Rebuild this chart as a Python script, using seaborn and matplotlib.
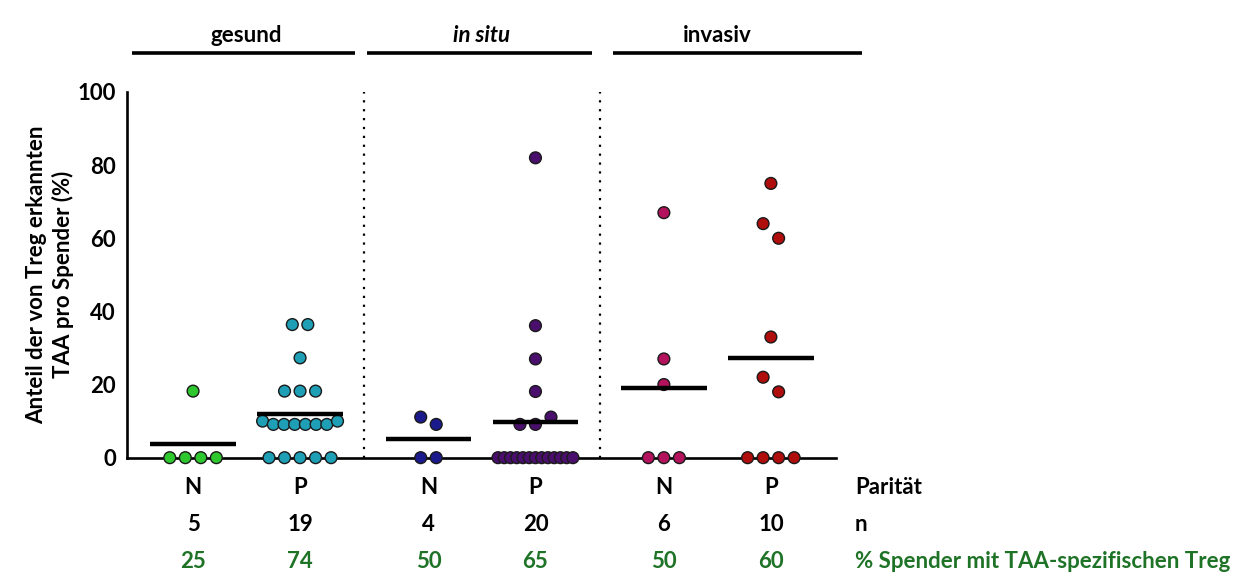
import numpy as np
import pandas as pd
import matplotlib
matplotlib.use("Agg")
import matplotlib.pyplot as plt
import matplotlib.transforms as mtransforms
import seaborn as sns

# ---- data -------------------------------------------------------------
groups = ["gesund", "in situ", "invasiv"]
parity = ["N", "P"]

gesund_N = [0, 0, 0, 0, 18.2]
gesund_P = [0, 0, 0, 0, 0, 10.0, 9.1, 9.1, 9.1, 9.1, 9.1, 9.1, 10.0,
            18.2, 18.2, 18.2, 27.3, 36.4, 36.4]
insitu_N = [0, 0, 11.1, 9.1]
insitu_P = [0, 0, 0, 0, 0, 0, 0, 0, 0, 0, 0, 0, 0,
            9.1, 9.1, 11.1, 18.1, 27.0, 36.1, 82.0]
invasiv_N = [0, 0, 0, 20.0, 27.0, 67.0]
invasiv_P = [0, 0, 0, 0, 22.0, 18.0, 33.0, 64.0, 60.0, 75.0]

n_donors = [5, 19, 4, 20, 6, 10]
pct_treg = [25, 74, 50, 65, 50, 60]

series = [gesund_N, gesund_P, insitu_N, insitu_P, invasiv_N, invasiv_P]
colors = ["#2ec82e", "#1e9fb6", "#1a1a8c", "#4a0f6c", "#b3135d", "#b00d0d"]

# ---- layout helpers ----------------------------------------------------
GROUP_STEP = 2.2          # distance between N columns of neighbouring groups
cat_x = [g * GROUP_STEP + p for g in range(len(groups)) for p in range(len(parity))]


def row_offsets(values, step=0.145, max_span=0.70, tol=4.5):
    """Spread points of (nearly) equal value side by side, like a dot plot."""
    v = np.asarray(values, float)
    order = np.argsort(v, kind="stable")
    bins, cur = [], [order[0]]
    for i in order[1:]:
        if v[i] - v[cur[-1]] < tol:
            cur.append(i)
        else:
            bins.append(cur)
            cur = [i]
    bins.append(cur)
    off = np.zeros(len(v))
    for b in bins:
        b = sorted(b)
        k = len(b)
        s = min(step, max_span / (k - 1)) if k > 1 else 0.0
        for j, idx in enumerate(b):
            off[idx] = (j - (k - 1) / 2) * s
    return off


rows = []
for ci, vals in enumerate(series):
    off = row_offsets(vals)
    for v, o in zip(vals, off):
        rows.append({"cat": ci, "x": cat_x[ci] + o, "value": v})
df = pd.DataFrame(rows)

# ---- style -------------------------------------------------------------
sns.set_theme(style="white")
plt.rcParams["font.family"] = ["Lato", "DejaVu Sans"]
plt.rcParams["font.weight"] = "bold"
for key in ("text.color", "axes.labelcolor", "xtick.color", "ytick.color"):
    plt.rcParams[key] = "black"

FS = 16

fig = plt.figure(figsize=(12.43, 5.8), dpi=100)
ax = fig.add_axes([0.1022, 0.2109, 0.5704, 0.6305])

sns.scatterplot(data=df, x="x", y="value", hue="cat",
                palette=dict(enumerate(colors)), s=72,
                edgecolor="#1a1a1a", linewidth=1.0, legend=False,
                ax=ax, zorder=3, clip_on=False)

# group means
for ci, vals in enumerate(series):
    m = np.mean(vals)
    ax.hlines(m, cat_x[ci] - 0.40, cat_x[ci] + 0.40, color="black",
              linewidth=3.2, zorder=4)

# dotted separators between groups
for g in range(1, len(groups)):
    xs = (cat_x[2 * g - 1] + cat_x[2 * g]) / 2
    ax.vlines(xs, 0, 100, color="black", linestyle=(0, (1, 3)),
              linewidth=1.6, zorder=1)

ax.set_xlim(-0.617, 6.009)
ax.set_ylim(0, 100)
ax.set_yticks([0, 20, 40, 60, 80, 100])
ax.set_xticks(cat_x)
ax.set_xticklabels([])
ax.tick_params(axis="y", length=6, width=1.8, labelsize=FS, pad=2, color="black")
ax.tick_params(axis="x", length=5, width=1.6, color="black", direction="out")
for lab in ax.get_yticklabels():
    lab.set_fontweight("bold")
ax.set_xlabel("")
ax.set_ylabel("Anteil der von Treg erkannten\nTAA pro Spender (%)",
              fontsize=FS, fontweight="bold", linespacing=1.25)
ax.yaxis.set_label_coords(-0.075, 0.5)

sns.despine(ax=ax)
for side in ("left", "bottom"):
    ax.spines[side].set_linewidth(1.9)
    ax.spines[side].set_color("black")

trans = mtransforms.blended_transform_factory(ax.transData, ax.transAxes)

# group headers with bars
header_spans = [(-0.574, 1.514), (1.623, 3.726), (3.925, 6.252)]
for g, (x0, x1) in enumerate(header_spans):
    ax.plot([x0, x1], [1.107, 1.107], transform=trans, color="black",
            linewidth=2.6, clip_on=False, solid_capstyle="butt")
    cx = (cat_x[2 * g] + cat_x[2 * g + 1]) / 2
    style = "italic" if groups[g] == "in situ" else "normal"
    ax.text(cx, 1.155, groups[g], transform=trans, ha="center", va="center",
            fontsize=FS, fontweight="bold", fontstyle=style)

# table below the axis
green = "#1f7326"
row_y = [-0.082, -0.183, -0.284]
for ci in range(len(cat_x)):
    ax.text(cat_x[ci], row_y[0], parity[ci % 2], transform=trans,
            ha="center", va="center", fontsize=FS, fontweight="bold")
    ax.text(cat_x[ci], row_y[1], str(n_donors[ci]), transform=trans,
            ha="center", va="center", fontsize=FS, fontweight="bold")
    ax.text(cat_x[ci], row_y[2], str(pct_treg[ci]), transform=trans,
            ha="center", va="center", fontsize=FS, fontweight="bold",
            color=green)

right_x = 6.187
ax.text(right_x, row_y[0], "Parität", transform=trans, ha="left",
        va="center", fontsize=FS, fontweight="bold")
ax.text(right_x, row_y[1], "n", transform=trans, ha="left",
        va="center", fontsize=FS, fontweight="bold")
ax.text(right_x, row_y[2], "% Spender mit TAA-spezifischen Treg",
        transform=trans, ha="left", va="center", fontsize=FS,
        fontweight="bold", color=green)

fig.savefig("out.png", dpi=100, facecolor="white")
